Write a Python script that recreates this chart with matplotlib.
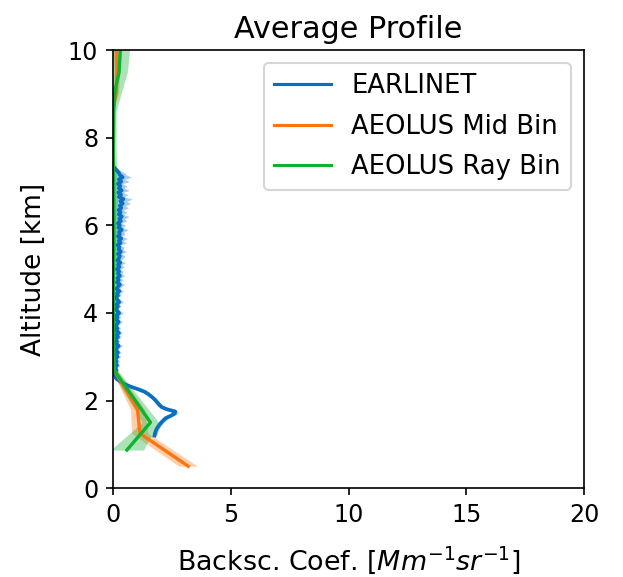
import numpy as np
import matplotlib
matplotlib.use('Agg')
import matplotlib.pyplot as plt

# EARLINET profile, 0.05 km steps starting at 1.2 km
earl_start = 1.2
earl_step = 0.05
earl_vals = [1.77, 1.79, 1.82, 1.86, 1.92, 1.98, 2.06, 2.15, 2.25, 2.45,
             2.62, 2.65, 2.30, 2.08, 1.98, 1.90, 1.82, 1.73, 1.62, 1.50,
             1.35, 1.12, 0.85, 0.60, 0.42, 0.28, 0.15, 0.10, 0.07,
             0.10, 0.15, 0.08, 0.18, 0.12, 0.16, 0.10, 0.20, 0.13, 0.22,
             0.12, 0.16, 0.25, 0.13, 0.18, 0.10, 0.22, 0.16, 0.26, 0.13,
             0.20, 0.11, 0.18, 0.25, 0.14, 0.20, 0.16, 0.27, 0.18, 0.13,
             0.22, 0.16, 0.27, 0.20, 0.11, 0.22, 0.18, 0.28, 0.16, 0.22,
             0.30, 0.18, 0.25, 0.20, 0.30, 0.22, 0.27, 0.18, 0.28, 0.22,
             0.32, 0.20, 0.26, 0.30, 0.22, 0.34, 0.25, 0.28, 0.20, 0.33,
             0.26, 0.36, 0.22, 0.30, 0.27, 0.38, 0.24, 0.30, 0.22, 0.34,
             0.28, 0.38, 0.26, 0.33, 0.25, 0.36, 0.30, 0.42, 0.32, 0.45,
             0.26, 0.35, 0.24, 0.38, 0.26, 0.32, 0.22, 0.36, 0.26, 0.42,
             0.30, 0.26, 0.18, 0.10]
earl_std = [0.10, 0.10, 0.10, 0.10, 0.10, 0.10, 0.10, 0.12, 0.12, 0.12,
            0.12, 0.12, 0.12, 0.12, 0.10, 0.10, 0.10, 0.10, 0.10, 0.10,
            0.10, 0.10, 0.10, 0.10, 0.08, 0.08, 0.06, 0.06, 0.06,
            0.08, 0.10, 0.08, 0.12, 0.10, 0.12, 0.08, 0.14, 0.10, 0.14,
            0.10, 0.12, 0.16, 0.10, 0.12, 0.10, 0.14, 0.12, 0.16, 0.10,
            0.14, 0.10, 0.12, 0.16, 0.10, 0.14, 0.12, 0.18, 0.12, 0.10,
            0.14, 0.12, 0.18, 0.14, 0.10, 0.14, 0.12, 0.18, 0.12, 0.16,
            0.20, 0.14, 0.18, 0.14, 0.20, 0.16, 0.18, 0.14, 0.20, 0.16,
            0.22, 0.14, 0.18, 0.22, 0.16, 0.24, 0.18, 0.20, 0.14, 0.24,
            0.18, 0.26, 0.16, 0.22, 0.20, 0.28, 0.18, 0.24, 0.16, 0.26,
            0.22, 0.30, 0.20, 0.26, 0.20, 0.30, 0.24, 0.34, 0.26, 0.38,
            0.22, 0.30, 0.20, 0.32, 0.22, 0.28, 0.18, 0.34, 0.24, 0.38,
            0.28, 0.24, 0.16, 0.08]
earl_alt = earl_start + earl_step * np.arange(len(earl_vals))

# AEOLUS Mid Bin
mid_alt = [0.5, 1.25, 1.8, 2.7, 3.7, 4.7, 5.7, 6.7, 7.7, 8.7, 9.05, 9.5, 10.1]
mid_vals = [3.2, 1.15, 1.05, 0.05, 0.01, 0.0, 0.02, 0.01, 0.0, 0.02, 0.15, 0.17, 0.15]
mid_std = [0.4, 0.35, 0.3, 0.1, 0.05, 0.05, 0.05, 0.05, 0.05, 0.05, 0.1, 0.12, 0.12]

# AEOLUS Ray Bin
ray_alt = [0.87, 1.5, 2.7, 3.7, 4.7, 5.7, 6.7, 7.7, 8.6, 9.1, 9.5, 10.1]
ray_vals = [0.6, 1.6, 0.05, 0.03, 0.02, 0.05, 0.04, 0.02, 0.04, 0.1, 0.27, 0.33]
ray_std = [0.7, 0.35, 0.15, 0.12, 0.12, 0.15, 0.15, 0.12, 0.1, 0.3, 0.35, 0.4]

c_earl = '#0a6fc0'
c_mid = '#ff7410'
c_ray = '#10b030'

fig = plt.figure(figsize=(623 / 150, 577 / 150), dpi=150)
ax = fig.add_axes([0.181, 0.154, 0.757, 0.759])

ev, es = np.array(earl_vals), np.array(earl_std)
mv, ms = np.array(mid_vals), np.array(mid_std)
rv, rs = np.array(ray_vals), np.array(ray_std)

ax.fill_betweenx(earl_alt, ev - es, ev + es, color=c_earl, alpha=0.35, lw=0)
ax.fill_betweenx(mid_alt, mv - ms, mv + ms, color=c_mid, alpha=0.35, lw=0)
ax.fill_betweenx(ray_alt, rv - rs, rv + rs, color=c_ray, alpha=0.35, lw=0)

ax.plot(earl_vals, earl_alt, color=c_earl, lw=1.8, label='EARLINET')
ax.plot(mid_vals, mid_alt, color=c_mid, lw=1.6, label='AEOLUS Mid Bin')
ax.plot(ray_vals, ray_alt, color=c_ray, lw=1.6, label='AEOLUS Ray Bin')

ax.set_xlim(0, 20)
ax.set_ylim(0, 10)
ax.set_xticks([0, 5, 10, 15, 20])
ax.tick_params(labelsize=11.4)
ax.set_title('Average Profile', fontsize=14.5)
ax.set_xlabel('Backsc. Coef. [$Mm^{-1}sr^{-1}$]', fontsize=12.9, labelpad=8.5)
ax.set_ylabel('Altitude [km]', fontsize=12.7, labelpad=10)
leg = ax.legend(loc='upper right', fontsize=12.4, handlelength=2.2, labelspacing=0.55)
for line in leg.get_lines():
    line.set_linewidth(1.5)

fig.savefig('out.png', dpi=150)
